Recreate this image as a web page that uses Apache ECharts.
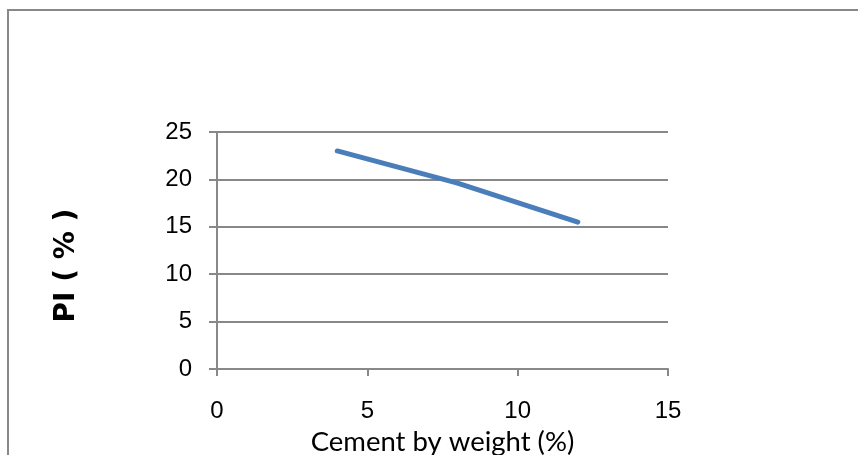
<!DOCTYPE html>
<html>
<head>
<meta charset="utf-8">
<script src="https://cdn.jsdelivr.net/npm/echarts@6/dist/echarts.min.js"></script>
<style>
html,body{margin:0;padding:0;background:#fff;}
#wrap{position:relative;width:858px;height:455px;overflow:hidden;}
#chart{position:absolute;left:0;top:0;width:858px;height:455px;}
#frame{position:absolute;left:7px;top:9px;width:860px;height:460px;border-top:2px solid #888;border-left:2px solid #888;pointer-events:none;}
</style>
</head>
<body>
<div id="wrap"><div id="chart"></div><div id="frame"></div></div>
<script>
const cementPct = [4, 8, 12];
const piValues = [23, 19.6, 15.5];
const xTitle = 'Cement by weight (%)';
const yTitle = 'PI ( % )';

const chart = echarts.init(document.getElementById('chart'), null, {renderer: 'canvas'});
chart.setOption({
  animation: false,
  backgroundColor: '#fff',
  grid: {left: 217, right: 190, top: 132, bottom: 86, containLabel: false, outerBoundsMode: 'none'},
  xAxis: {
    type: 'value', min: 0, max: 15, interval: 5,
    axisLine: {show: true, lineStyle: {color: '#888', width: 2}},
    axisTick: {show: true, length: 7, lineStyle: {color: '#888', width: 2}},
    splitLine: {show: false},
    axisLabel: {color: '#000', fontFamily: 'Liberation Sans', fontSize: 24, margin: 30},
    name: xTitle, nameLocation: 'middle', nameGap: 58,
    nameTextStyle: {color: '#000', fontFamily: 'Lato', fontSize: 27.5}
  },
  yAxis: {
    type: 'value', min: 0, max: 25, interval: 5,
    axisLine: {show: true, lineStyle: {color: '#888', width: 2}},
    axisTick: {show: true, length: 8, lineStyle: {color: '#888', width: 2}},
    splitLine: {show: true, lineStyle: {color: '#888', width: 2}},
    axisLabel: {color: '#000', fontFamily: 'Liberation Sans', fontSize: 24, margin: 25},
    name: yTitle, nameLocation: 'middle', nameGap: 136, nameRotate: 90,
    nameTextStyle: {color: '#000', fontFamily: 'DejaVu Sans', fontWeight: 'bold', fontSize: 28, padding: [0, 30, 0, 0]}
  },
  series: [{
    type: 'line',
    data: cementPct.map((x, i) => [x, piValues[i]]),
    showSymbol: false,
    smooth: false,
    lineStyle: {color: '#4a7ebb', width: 5, cap: 'round', join: 'round'}
  }]
});
</script>
</body>
</html>
